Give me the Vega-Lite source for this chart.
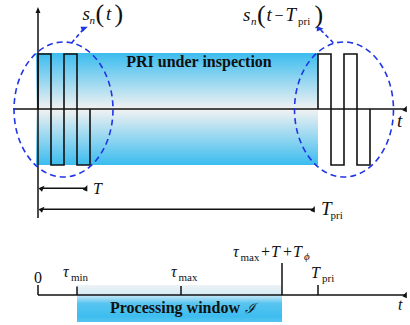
{
  "$schema": "https://vega.github.io/schema/vega-lite/v6.json",
  "width": 410,
  "height": 325,
  "padding": 0,
  "autosize": {"type": "fit", "contains": "padding"},
  "background": "white",
  "config": {"view": {"stroke": null}, "text": {"font": "'Liberation Serif', 'Times New Roman', serif"}},
  "datasets": {
    "bands": [
      {"part": "inspection", "x": 36, "x2": 318, "y": 53, "y2": 165},
      {"part": "processing", "x": 77, "x2": 282, "y": 285, "y2": 322}
    ],
    "waves": [
      {"pulse": "s_n(t)", "i": 0, "x": 38, "y": 109},
      {"pulse": "s_n(t)", "i": 1, "x": 38, "y": 54},
      {"pulse": "s_n(t)", "i": 2, "x": 51, "y": 54},
      {"pulse": "s_n(t)", "i": 3, "x": 51, "y": 165},
      {"pulse": "s_n(t)", "i": 4, "x": 64, "y": 165},
      {"pulse": "s_n(t)", "i": 5, "x": 64, "y": 54},
      {"pulse": "s_n(t)", "i": 6, "x": 77, "y": 54},
      {"pulse": "s_n(t)", "i": 7, "x": 77, "y": 165},
      {"pulse": "s_n(t)", "i": 8, "x": 90, "y": 165},
      {"pulse": "s_n(t)", "i": 9, "x": 90, "y": 109},
      {"pulse": "s_n(t-Tpri)", "i": 0, "x": 318, "y": 109},
      {"pulse": "s_n(t-Tpri)", "i": 1, "x": 318, "y": 54},
      {"pulse": "s_n(t-Tpri)", "i": 2, "x": 331, "y": 54},
      {"pulse": "s_n(t-Tpri)", "i": 3, "x": 331, "y": 165},
      {"pulse": "s_n(t-Tpri)", "i": 4, "x": 344, "y": 165},
      {"pulse": "s_n(t-Tpri)", "i": 5, "x": 344, "y": 54},
      {"pulse": "s_n(t-Tpri)", "i": 6, "x": 357, "y": 54},
      {"pulse": "s_n(t-Tpri)", "i": 7, "x": 357, "y": 165},
      {"pulse": "s_n(t-Tpri)", "i": 8, "x": 370, "y": 165},
      {"pulse": "s_n(t-Tpri)", "i": 9, "x": 370, "y": 109}
    ],
    "rules": [
      {"what": "amplitude axis", "x": 38, "y": 10, "x2": 38, "y2": 218},
      {"what": "time axis", "x": 13, "y": 109, "x2": 405, "y2": 109},
      {"what": "T span", "x": 41, "y": 188.3, "x2": 87, "y2": 188.3},
      {"what": "Tpri span", "x": 41, "y": 209.3, "x2": 314, "y2": 209.3},
      {"what": "window axis", "x": 38, "y": 295, "x2": 405, "y2": 295},
      {"what": "tick 0", "x": 38, "y": 285, "x2": 38, "y2": 295},
      {"what": "tick tau_min", "x": 77, "y": 286.5, "x2": 77, "y2": 295},
      {"what": "tick tau_max", "x": 181, "y": 286, "x2": 181, "y2": 295},
      {"what": "tick window end", "x": 282, "y": 263, "x2": 282, "y2": 295},
      {"what": "tick Tpri", "x": 318, "y": 285, "x2": 318, "y2": 295}
    ],
    "pointers": [
      {"to": "s_n(t)", "x": 71.7, "y": 42.7, "x2": 84, "y2": 28.5},
      {"to": "s_n(t-Tpri)", "x": 333.3, "y": 42.7, "x2": 319.6, "y2": 28.8}
    ],
    "heads": [
      {"dir": "up", "x": 38, "y": 10.5},
      {"dir": "right", "x": 405.5, "y": 109},
      {"dir": "left", "x": 42, "y": 188.3},
      {"dir": "right", "x": 86, "y": 188.3},
      {"dir": "left", "x": 42, "y": 209.3},
      {"dir": "right", "x": 313.5, "y": 209.3},
      {"dir": "right", "x": 405.5, "y": 295}
    ],
    "pointerHeads": [
      {"dir": "ne", "x": 84.1, "y": 28.3},
      {"dir": "nw", "x": 319.6, "y": 28.8}
    ],
    "rings": [
      {"pulse": "s_n(t)", "x": 63.5, "y": 109.5},
      {"pulse": "s_n(t-Tpri)", "x": 344, "y": 109.5}
    ],
    "labels": [
      {"kind": "big", "text": "s", "x": 82.5, "y": 19.5},
      {"kind": "big", "text": "t", "x": 106, "y": 19.5},
      {"kind": "big", "text": "s", "x": 243, "y": 20.5},
      {"kind": "big", "text": "t", "x": 266.5, "y": 20.5},
      {"kind": "big", "text": "T", "x": 285.5, "y": 20.5},
      {"kind": "big", "text": "t", "x": 397, "y": 127},
      {"kind": "big", "text": "T", "x": 321, "y": 215},
      {"kind": "mid", "text": "T", "x": 93, "y": 193.5},
      {"kind": "mid", "text": "τ", "x": 63, "y": 277},
      {"kind": "mid", "text": "τ", "x": 171, "y": 277},
      {"kind": "mid", "text": "τ", "x": 233, "y": 257},
      {"kind": "mid", "text": "T", "x": 271, "y": 257},
      {"kind": "mid", "text": "T", "x": 293, "y": 257},
      {"kind": "mid", "text": "T", "x": 311, "y": 278},
      {"kind": "mid", "text": "t", "x": 398, "y": 310},
      {"kind": "subItalic", "text": "n", "x": 89.5, "y": 24},
      {"kind": "subItalic", "text": "n", "x": 251, "y": 25},
      {"kind": "subItalic", "text": "ϕ", "x": 304, "y": 260},
      {"kind": "sub", "text": "pri", "x": 298, "y": 25},
      {"kind": "sub", "text": "pri", "x": 330.5, "y": 219},
      {"kind": "sub", "text": "min", "x": 71, "y": 280.5},
      {"kind": "sub", "text": "max", "x": 178.5, "y": 280.5},
      {"kind": "sub", "text": "max", "x": 240.5, "y": 260.5},
      {"kind": "sub", "text": "pri", "x": 322, "y": 281.5},
      {"kind": "paren", "text": "(", "x": 95.5, "y": 22},
      {"kind": "paren", "text": ")", "x": 114.5, "y": 22},
      {"kind": "paren", "text": "(", "x": 257, "y": 23},
      {"kind": "paren", "text": ")", "x": 314.5, "y": 23},
      {"kind": "plain", "text": "0", "x": 34, "y": 283},
      {"kind": "plain", "text": "+", "x": 261, "y": 257},
      {"kind": "plain", "text": "+", "x": 283, "y": 257},
      {"kind": "plain", "text": "−", "x": 274.5, "y": 20.5},
      {"kind": "bold", "text": "PRI under inspection", "x": 199, "y": 67},
      {"kind": "bold", "text": "Processing window", "x": 175, "y": 313},
      {"kind": "script", "text": "ℐ", "x": 245, "y": 313}
    ]
  },
  "encoding": {
    "x": {"field": "x", "type": "quantitative", "scale": {"domain": [0, 410], "nice": false, "zero": false}, "axis": null},
    "y": {"field": "y", "type": "quantitative", "scale": {"domain": [0, 325], "nice": false, "zero": false, "reverse": true}, "axis": null}
  },
  "layer": [
    {
      "data": {"name": "bands"},
      "transform": [{"filter": "datum.part === 'inspection'"}],
      "mark": {
        "type": "rect",
        "fill": {
          "gradient": "linear", "x1": 0, "y1": 0, "x2": 0, "y2": 1,
          "stops": [
            {"offset": 0, "color": "#3bbcef"},
            {"offset": 0.5, "color": "#f2f2f2"},
            {"offset": 1, "color": "#3bbcef"}
          ]
        }
      },
      "encoding": {"x2": {"field": "x2"}, "y2": {"field": "y2"}}
    },
    {
      "data": {"name": "bands"},
      "transform": [{"filter": "datum.part === 'processing'"}],
      "mark": {
        "type": "rect",
        "fill": {
          "gradient": "linear", "x1": 0, "y1": 0, "x2": 0, "y2": 1,
          "stops": [
            {"offset": 0, "color": "#eef2f4"},
            {"offset": 0.25, "color": "#d6ecf6"},
            {"offset": 0.5, "color": "#58c4f0"},
            {"offset": 0.85, "color": "#3dbdef"},
            {"offset": 1, "color": "#55c5f0"}
          ]
        }
      },
      "encoding": {"x2": {"field": "x2"}, "y2": {"field": "y2"}}
    },
    {
      "data": {"name": "waves"},
      "mark": {"type": "line", "color": "#111111", "strokeWidth": 1.6, "strokeJoin": "miter"},
      "encoding": {"detail": {"field": "pulse"}, "order": {"field": "i", "type": "quantitative"}}
    },
    {
      "data": {"name": "rules"},
      "mark": {"type": "rule", "color": "#111111", "strokeWidth": 1.5},
      "encoding": {"x2": {"field": "x2"}, "y2": {"field": "y2"}}
    },
    {
      "data": {"name": "heads"},
      "mark": {"type": "point", "shape": "M0,-1L0.7,0.7L-0.7,0.7Z", "filled": true, "color": "#111111", "size": 49, "opacity": 1},
      "encoding": {"angle": {"field": "dir", "type": "nominal", "scale": {"domain": ["up", "right", "left"], "range": [0, 90, 270]}, "legend": null}}
    },
    {
      "data": {"name": "rings"},
      "mark": {
        "type": "point",
        "shape": "M 0.733 0 C 0.733 0.5523 0.405 1 0 1 C -0.405 1 -0.733 0.5523 -0.733 0 C -0.733 -0.5523 -0.405 -1 0 -1 C 0.405 -1 0.733 -0.5523 0.733 0 Z",
        "size": 18225, "filled": false, "color": "#1f35e6", "strokeWidth": 1.6, "strokeDash": [6, 4], "opacity": 1
      }
    },
    {
      "data": {"name": "pointers"},
      "mark": {"type": "rule", "color": "#1f35e6", "strokeWidth": 1.6, "strokeDash": [4, 3]},
      "encoding": {"x2": {"field": "x2"}, "y2": {"field": "y2"}}
    },
    {
      "data": {"name": "pointerHeads"},
      "mark": {"type": "point", "shape": "M0,-1L0.7,0.7L-0.7,0.7Z", "filled": true, "color": "#1f35e6", "size": 64, "opacity": 1},
      "encoding": {"angle": {"field": "dir", "type": "nominal", "scale": {"domain": ["ne", "nw"], "range": [40, 315]}, "legend": null}}
    },
    {
      "data": {"name": "labels"},
      "transform": [{"filter": "datum.kind === 'big'"}],
      "mark": {"type": "text", "fontStyle": "italic", "fontSize": 19, "align": "left", "baseline": "alphabetic", "color": "#111111"},
      "encoding": {"text": {"field": "text"}}
    },
    {
      "data": {"name": "labels"},
      "transform": [{"filter": "datum.kind === 'mid'"}],
      "mark": {"type": "text", "fontStyle": "italic", "fontSize": 16, "align": "left", "baseline": "alphabetic", "color": "#111111"},
      "encoding": {"text": {"field": "text"}}
    },
    {
      "data": {"name": "labels"},
      "transform": [{"filter": "datum.kind === 'subItalic'"}],
      "mark": {"type": "text", "fontStyle": "italic", "fontSize": 11, "align": "left", "baseline": "alphabetic", "color": "#111111"},
      "encoding": {"text": {"field": "text"}}
    },
    {
      "data": {"name": "labels"},
      "transform": [{"filter": "datum.kind === 'sub'"}],
      "mark": {"type": "text", "fontSize": 11, "align": "left", "baseline": "alphabetic", "color": "#111111"},
      "encoding": {"text": {"field": "text"}}
    },
    {
      "data": {"name": "labels"},
      "transform": [{"filter": "datum.kind === 'paren'"}],
      "mark": {"type": "text", "fontSize": 26, "align": "left", "baseline": "alphabetic", "color": "#111111"},
      "encoding": {"text": {"field": "text"}}
    },
    {
      "data": {"name": "labels"},
      "transform": [{"filter": "datum.kind === 'plain'"}],
      "mark": {"type": "text", "fontSize": 16, "align": "left", "baseline": "alphabetic", "color": "#111111"},
      "encoding": {"text": {"field": "text"}}
    },
    {
      "data": {"name": "labels"},
      "transform": [{"filter": "datum.kind === 'bold'"}],
      "mark": {"type": "text", "fontWeight": "bold", "fontSize": 16, "align": "center", "baseline": "alphabetic", "color": "#111111"},
      "encoding": {"text": {"field": "text"}}
    },
    {
      "data": {"name": "labels"},
      "transform": [{"filter": "datum.kind === 'script'"}],
      "mark": {"type": "text", "font": "DejaVu Serif", "fontStyle": "italic", "fontSize": 14, "align": "left", "baseline": "alphabetic", "color": "#111111"},
      "encoding": {"text": {"field": "text"}}
    }
  ]
}
